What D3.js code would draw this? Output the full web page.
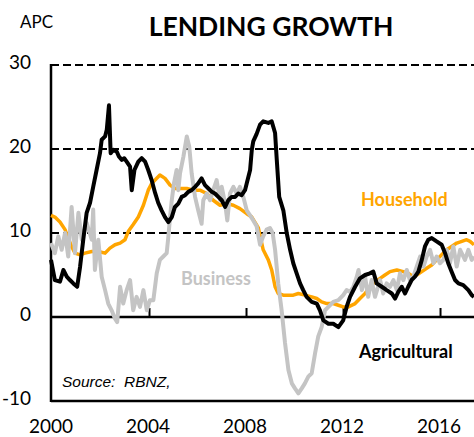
<!DOCTYPE html>
<html lang="en">
	<head>
		<meta charset="utf-8">
		<title>Lending growth</title>
		<script type="text/javascript" src="https://d3js.org/d3.v7.min.js"></script>
		<style type="text/css">
			body { margin: 0; background: #fff; }
			text { font-family: Lato, "Open Sans", sans-serif; }
		</style>
	</head>
	<body>
		<script type="text/javascript">

			//Series, as [decimal year, annual % change]
			var household = [
				[2000.00, 12.1], [2000.16, 11.9], [2000.37, 11.3], [2000.58, 10.4], [2000.71, 9.4], [2000.85, 8.4],
				[2000.99, 7.6], [2001.20, 7.4], [2001.40, 7.6], [2001.68, 7.8], [2001.95, 7.8], [2002.23, 7.6],
				[2002.43, 8.2], [2002.64, 8.6], [2002.85, 8.8], [2003.05, 9.2], [2003.19, 10.2], [2003.39, 11.0],
				[2003.60, 11.9], [2003.81, 13.3], [2004.01, 15.1], [2004.15, 15.9], [2004.29, 16.3], [2004.49, 16.9],
				[2004.70, 16.5], [2004.91, 15.7], [2005.11, 15.3], [2005.32, 15.3], [2005.60, 15.3], [2005.87, 15.1],
				[2006.14, 15.1], [2006.42, 14.7], [2006.69, 13.9], [2006.97, 13.3], [2007.25, 13.5], [2007.52, 13.3],
				[2007.79, 12.9], [2008.07, 12.3], [2008.28, 11.9], [2008.55, 10.6], [2008.75, 8.0], [2008.96, 6.8],
				[2009.10, 5.6], [2009.24, 3.6], [2009.37, 2.8], [2009.58, 2.6], [2009.79, 2.6], [2009.99, 2.6],
				[2010.20, 2.8], [2010.47, 2.6], [2010.75, 2.4], [2010.96, 2.2], [2011.16, 1.8], [2011.37, 1.6],
				[2011.64, 1.6], [2011.85, 1.4], [2012.05, 1.2], [2012.26, 1.2], [2012.54, 1.6], [2012.74, 2.2],
				[2012.95, 2.8], [2013.15, 3.6], [2013.36, 4.2], [2013.57, 4.6], [2013.77, 5.0], [2013.98, 5.4],
				[2014.26, 5.6], [2014.53, 5.4], [2014.74, 5.2], [2014.94, 4.8], [2015.08, 5.0], [2015.29, 5.4],
				[2015.49, 5.8], [2015.70, 6.2], [2015.90, 6.8], [2016.11, 7.4], [2016.32, 8.0], [2016.52, 8.4],
				[2016.73, 8.8], [2016.94, 9.0], [2017.14, 9.2], [2017.28, 9.0], [2017.44, 8.6]
			];

			var business = [
				[2000.00, 8.8], [2000.16, 7.6], [2000.30, 9.6], [2000.44, 8.0], [2000.58, 10.0], [2000.71, 7.2],
				[2000.85, 13.1], [2000.99, 7.6], [2001.13, 12.4], [2001.27, 9.2], [2001.47, 11.2], [2001.68, 9.2],
				[2001.74, 12.8], [2001.81, 5.6], [2001.95, 9.2], [2002.09, 4.8], [2002.23, 3.2], [2002.36, 1.6],
				[2002.50, 0.8], [2002.64, -0.2], [2002.73, -0.6], [2002.85, 3.6], [2002.98, 1.6], [2003.12, 3.2],
				[2003.26, 4.4], [2003.39, 0.8], [2003.53, 2.4], [2003.67, 1.2], [2003.81, 3.2], [2003.95, 0.8],
				[2004.08, 2.0], [2004.22, 2.0], [2004.36, 5.2], [2004.49, 6.8], [2004.63, 7.2], [2004.77, 7.6],
				[2004.84, 9.6], [2004.91, 11.9], [2004.98, 13.9], [2005.07, 15.9], [2005.18, 17.5], [2005.25, 15.1],
				[2005.32, 17.1], [2005.46, 19.1], [2005.60, 21.5], [2005.70, 20.3], [2005.80, 17.1], [2005.94, 14.3],
				[2006.07, 12.7], [2006.21, 11.1], [2006.28, 13.9], [2006.42, 14.7], [2006.56, 13.9], [2006.69, 15.1],
				[2006.83, 16.3], [2006.97, 13.9], [2007.04, 15.5], [2007.18, 13.5], [2007.27, 11.5], [2007.38, 14.7],
				[2007.52, 15.5], [2007.66, 14.7], [2007.79, 15.5], [2007.93, 14.3], [2008.07, 12.7], [2008.21, 12.1],
				[2008.34, 11.5], [2008.48, 10.8], [2008.62, 8.6], [2008.75, 9.6], [2008.89, 10.4], [2009.03, 10.6],
				[2009.14, 10.0], [2009.24, 8.0], [2009.37, 4.0], [2009.51, 0.8], [2009.65, -3.1], [2009.79, -6.3],
				[2009.93, -7.9], [2010.06, -8.5], [2010.20, -9.1], [2010.34, -8.5], [2010.47, -7.9], [2010.61, -7.1],
				[2010.75, -6.7], [2010.89, -4.3], [2011.02, -2.3], [2011.16, -1.2], [2011.30, 0.8], [2011.44, 1.2],
				[2011.64, 1.8], [2011.85, 2.0], [2012.05, 2.6], [2012.19, 3.2], [2012.33, 3.0], [2012.47, 3.6],
				[2012.61, 4.8], [2012.68, 5.6], [2012.82, 3.2], [2012.95, 4.8], [2013.08, 2.4], [2013.22, 4.4],
				[2013.36, 2.4], [2013.57, 4.4], [2013.70, 2.8], [2013.84, 4.0], [2013.98, 3.6], [2014.12, 4.4],
				[2014.26, 3.2], [2014.39, 5.2], [2014.53, 4.4], [2014.67, 5.6], [2014.80, 4.4], [2014.94, 4.8],
				[2015.08, 6.0], [2015.22, 7.2], [2015.36, 6.0], [2015.49, 7.2], [2015.63, 8.0], [2015.77, 6.4],
				[2015.90, 7.2], [2016.04, 6.4], [2016.18, 6.8], [2016.32, 8.0], [2016.45, 6.4], [2016.59, 8.4],
				[2016.73, 6.0], [2016.87, 8.0], [2017.07, 6.8], [2017.21, 8.0], [2017.35, 6.8], [2017.44, 7.2]
			];

			var agricultural = [
				[2000.00, 6.8], [2000.16, 4.4], [2000.37, 4.2], [2000.51, 5.6], [2000.65, 4.8], [2000.78, 4.4],
				[2000.92, 4.0], [2001.08, 3.6], [2001.20, 6.0], [2001.33, 9.2], [2001.47, 12.4], [2001.61, 13.6],
				[2001.74, 15.5], [2001.88, 17.5], [2002.02, 19.5], [2002.09, 21.1], [2002.23, 21.5], [2002.30, 22.3],
				[2002.39, 25.2], [2002.46, 19.5], [2002.57, 19.9], [2002.71, 19.7], [2002.80, 19.1], [2002.92, 18.7],
				[2003.02, 18.9], [2003.12, 18.5], [2003.26, 17.9], [2003.33, 15.1], [2003.44, 17.5], [2003.60, 18.5],
				[2003.74, 18.9], [2003.88, 18.5], [2004.01, 17.5], [2004.15, 16.3], [2004.29, 14.8], [2004.42, 13.6],
				[2004.56, 12.7], [2004.70, 11.9], [2004.84, 11.3], [2004.98, 11.9], [2005.11, 13.1], [2005.25, 13.5],
				[2005.39, 14.3], [2005.53, 14.5], [2005.66, 14.9], [2005.80, 15.1], [2005.94, 15.5], [2006.07, 15.9],
				[2006.21, 16.5], [2006.35, 15.7], [2006.49, 15.3], [2006.63, 14.9], [2006.76, 14.7], [2006.90, 14.3],
				[2007.04, 13.9], [2007.18, 13.1], [2007.31, 13.9], [2007.45, 14.3], [2007.59, 14.3], [2007.72, 14.7],
				[2007.86, 14.5], [2008.00, 15.1], [2008.07, 15.9], [2008.21, 17.5], [2008.28, 19.9], [2008.34, 20.9],
				[2008.48, 21.8], [2008.62, 22.9], [2008.75, 23.3], [2008.96, 23.1], [2009.10, 23.3], [2009.24, 21.9],
				[2009.31, 18.7], [2009.41, 14.3], [2009.58, 12.7], [2009.72, 10.0], [2009.86, 8.0], [2009.99, 6.4],
				[2010.13, 5.2], [2010.27, 4.0], [2010.40, 3.2], [2010.54, 2.4], [2010.75, 1.8], [2010.96, 1.6],
				[2011.09, 0.8], [2011.23, -0.4], [2011.44, -0.8], [2011.64, -0.8], [2011.85, -1.2], [2012.05, -0.4],
				[2012.19, 1.2], [2012.33, 2.4], [2012.54, 3.6], [2012.74, 4.6], [2012.95, 5.0], [2013.15, 5.2],
				[2013.29, 5.4], [2013.43, 4.0], [2013.64, 3.6], [2013.84, 3.2], [2014.05, 2.8], [2014.19, 2.2],
				[2014.32, 3.0], [2014.46, 3.6], [2014.60, 2.8], [2014.73, 3.6], [2014.87, 4.4], [2015.01, 4.8],
				[2015.15, 5.4], [2015.29, 6.8], [2015.42, 8.4], [2015.56, 9.2], [2015.70, 9.4], [2015.90, 9.0],
				[2016.11, 8.6], [2016.25, 7.6], [2016.38, 6.4], [2016.52, 5.4], [2016.66, 4.4], [2016.80, 4.0],
				[2017.00, 3.8], [2017.21, 3.2], [2017.35, 2.6], [2017.44, 2.4]
			];

			var yTicks = [-10, 0, 10, 20, 30];
			var xTicks = [2000, 2004, 2008, 2012, 2016];

			//Width and height
			var w = 474;
			var h = 437;

			var x = d3.scaleLinear().domain([2000, 2017.5]).range([51, 475.4]);
			var y = d3.scaleLinear().domain([-10, 30]).range([401, 65]);

			var svg = d3.select("body")
						.append("svg")
						.attr("width", w)
						.attr("height", h);

			//Titles
			svg.append("text")
			   .attr("x", 20).attr("y", 28)
			   .style("font-size", "17px")
			   .text("APC");

			svg.append("text")
			   .attr("x", 271).attr("y", 36)
			   .attr("text-anchor", "middle")
			   .style("font-size", "26.5px").style("font-weight", "bold")
			   .text("LENDING GROWTH");

			//Dashed gridlines
			svg.selectAll("line.grid")
			   .data([10, 20, 30])
			   .enter()
			   .append("line")
			   .attr("class", "grid")
			   .attr("x1", 51).attr("x2", w)
			   .attr("y1", function (d) { return y(d); })
			   .attr("y2", function (d) { return y(d); })
			   .attr("stroke", "#000")
			   .attr("stroke-width", 2)
			   .attr("stroke-dasharray", "8,4");

			//Solid lines: zero axis, bottom, left
			svg.selectAll("line.solid")
			   .data([0, -10])
			   .enter()
			   .append("line")
			   .attr("class", "solid")
			   .attr("x1", 51).attr("x2", w)
			   .attr("y1", function (d) { return y(d); })
			   .attr("y2", function (d) { return y(d); })
			   .attr("stroke", "#000")
			   .attr("stroke-width", 2.5);

			svg.append("line")
			   .attr("x1", 51).attr("x2", 51)
			   .attr("y1", y(30) - 1).attr("y2", y(-10) + 1)
			   .attr("stroke", "#000")
			   .attr("stroke-width", 2.5);

			//Tick marks on zero axis
			svg.selectAll("line.tick")
			   .data(xTicks.slice(1))
			   .enter()
			   .append("line")
			   .attr("class", "tick")
			   .attr("x1", function (d) { return x(d) + 1.5; })
			   .attr("x2", function (d) { return x(d) + 1.5; })
			   .attr("y1", y(0)).attr("y2", y(0) - 9)
			   .attr("stroke", "#000")
			   .attr("stroke-width", 2);

			//Axis labels
			svg.selectAll("text.ylab")
			   .data(yTicks)
			   .enter()
			   .append("text")
			   .attr("class", "ylab")
			   .attr("x", 31)
			   .attr("y", function (d) { return y(d) - 3; })
			   .attr("dy", "0.35em")
			   .attr("text-anchor", "end")
			   .style("font-size", "19px")
			   .text(function (d) { return d; });

			svg.selectAll("text.xlab")
			   .data(xTicks)
			   .enter()
			   .append("text")
			   .attr("class", "xlab")
			   .attr("x", function (d) { return x(d); })
			   .attr("y", 433)
			   .attr("text-anchor", "middle")
			   .style("font-size", "19px")
			   .text(function (d) { return d; });

			//Series lines
			var line = d3.line()
						 .x(function (d) { return x(d[0]); })
						 .y(function (d) { return y(d[1]); });

			var series = [
				{ data: household, color: "#FFA500", width: 3.5 },
				{ data: business, color: "#C4C4C4", width: 4 },
				{ data: agricultural, color: "#000000", width: 4 }
			];

			svg.selectAll("path.series")
			   .data(series)
			   .enter()
			   .append("path")
			   .attr("class", "series")
			   .attr("d", function (d) { return line(d.data); })
			   .attr("fill", "none")
			   .attr("stroke", function (d) { return d.color; })
			   .attr("stroke-width", function (d) { return d.width; })
			   .attr("stroke-linejoin", "round");

			//Series labels
			svg.append("text")
			   .attr("x", 361).attr("y", 206)
			   .style("font-size", "18px").style("font-weight", "bold")
			   .style("fill", "#FFA500")
			   .text("Household");

			svg.append("text")
			   .attr("x", 181).attr("y", 285)
			   .style("font-size", "18px").style("font-weight", "bold")
			   .style("fill", "#C4C4C4")
			   .text("Business");

			svg.append("text")
			   .attr("x", 359).attr("y", 358)
			   .style("font-size", "18px").style("font-weight", "bold")
			   .text("Agricultural");

			svg.append("text")
			   .attr("x", 62).attr("y", 387)
			   .style("font-family", "'Liberation Sans', Arial, sans-serif")
			   .style("font-size", "15.5px").style("font-style", "italic")
			   .style("white-space", "pre")
			   .text("Source:  RBNZ,");

		</script>
	</body>
</html>
